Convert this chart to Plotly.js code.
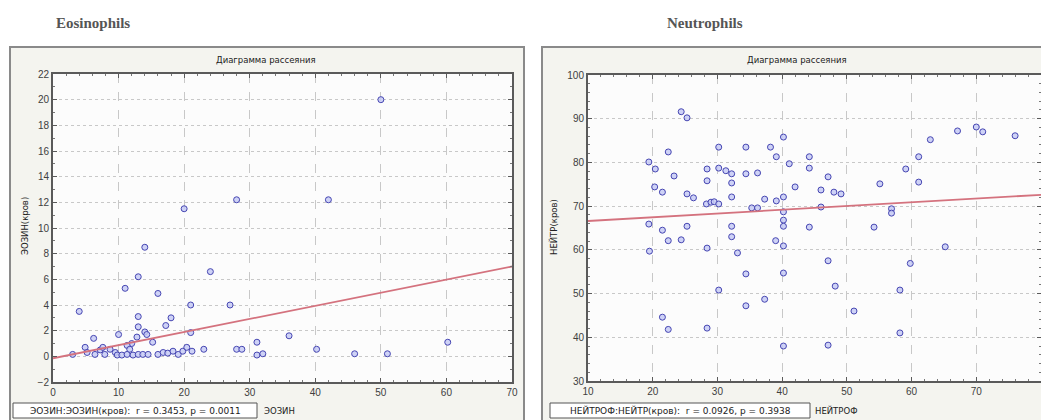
<!DOCTYPE html>
<html>
<head>
<meta charset="utf-8">
<script src="https://cdn.plot.ly/plotly-3.0.1.min.js"></script>
<style>html,body{margin:0;padding:0;background:#fff;}#chart{width:1041px;height:420px;}</style>
</head>
<body>
<div id="chart"></div>
<script>
// ---- Eosinophils panel data (ЭОЗИН vs ЭОЗИН(кров)) ----
const eosX = [20, 28, 14, 50, 42, 13, 11, 16, 24, 4,
              21, 27, 13, 18, 17.2, 13, 21, 14, 10, 6.2,
              14.3, 12.8, 15.2, 12, 11.3, 31.1, 36, 40.2, 60.2, 31.1,
              32, 46, 51, 3, 4.9, 5.2, 6.4, 7.2, 7.6, 7.9,
              8.7, 9.5, 9.8, 10.5, 11.3, 11.7, 12.2, 13, 13.7, 14.5,
              16, 16.8, 17.5, 18.3, 19.1, 19.8, 20.4, 21.2, 23, 28,
              28.8];
const eosY = [11.5, 12.2, 8.5, 20, 12.2, 6.2, 5.3, 4.9, 6.6, 3.5,
              4.0, 4.0, 3.1, 3.0, 2.4, 2.3, 1.85, 1.9, 1.7, 1.4,
              1.7, 1.5, 1.1, 1.0, 0.85, 1.1, 1.6, 0.55, 1.1, 0.1,
              0.2, 0.2, 0.2, 0.15, 0.7, 0.3, 0.15, 0.5, 0.7, 0.15,
              0.55, 0.3, 0.1, 0.1, 0.15, 0.55, 0.1, 0.15, 0.15, 0.15,
              0.15, 0.3, 0.25, 0.4, 0.15, 0.4, 0.7, 0.4, 0.55, 0.55,
              0.55];
const eosFitX = [0, 70];
const eosFitY = [-0.15, 7.0];

// ---- Neutrophils panel data (НЕЙТРОФ vs НЕЙТР(кров)) ----
const neuX = [24.4, 25.3, 22.4, 19.4, 20.4, 23.3, 20.3, 21.5, 25.3, 26.3,
              28.4, 28.4, 30.2, 30.2, 31.3, 32.2, 32.2, 32.2, 34.4, 34.4,
              36.2, 38.2, 39.1, 37.3, 39.1, 28.3, 29, 29.5, 30.2, 35.3,
              36.2, 19.4, 21.5, 25.3, 32.2, 32.2, 22.4, 24.4, 39, 19.5,
              28.4, 33.1, 34.4, 30.2, 34.4, 37.3, 21.5, 22.4, 28.4,
              40.2, 41.1, 44.2, 44.2, 42, 47.1, 46, 48, 49.1, 40.2,
              40.2, 40.2, 40.2, 44.2, 46, 55.1, 54.2, 56.9, 56.9, 59.1,
              61.1, 61.1, 62.9, 67.1, 70, 71, 76, 65.2, 40.2, 47.1,
              59.8, 40.2, 48.2, 58.2, 51.1, 58.2, 40.2, 47.1];
const neuY = [91.6, 90.2, 82.4, 80.1, 78.5, 76.9, 74.4, 73.2, 72.8, 71.9,
              78.5, 75.8, 83.5, 78.7, 78.1, 77.4, 75.3, 72.1, 83.5, 77.4,
              77.6, 83.5, 81.3, 71.6, 71.2, 70.5, 70.9, 71, 70.5, 69.6,
              69.6, 65.9, 64.5, 65.4, 65.4, 63.0, 62.1, 62.3, 62.1, 59.7,
              60.4, 59.3, 54.5, 50.8, 47.2, 48.7, 44.6, 41.8, 42.1,
              85.8, 79.7, 81.3, 78.7, 74.4, 76.7, 73.7, 73.2, 72.8, 72.1,
              68.7, 66.8, 65.4, 65.2, 69.8, 75.1, 65.2, 69.4, 68.4, 78.5,
              81.3, 75.5, 85.2, 87.2, 88.1, 87.0, 86.1, 60.7, 60.9, 57.5,
              56.9, 54.7, 51.7, 50.8, 46, 41, 38, 38.2];
const neuFitX = [10, 80];
const neuFitY = [66.6, 72.6];

// ---- Texts ----
const panelTitles = ["Eosinophils", "Neutrophils"];
const plotTitle = "Диаграмма рассеяния";
const yTitles = ["ЭОЗИН(кров)", "НЕЙТР(кров)"];
const xTitles = ["ЭОЗИН", "НЕЙТРОФ"];
const legendTexts = ["ЭОЗИН:ЭОЗИН(кров):  r = 0.3453, p = 0.0011",
                     "НЕЙТРОФ:НЕЙТР(кров):  r = 0.0926, p = 0.3938"];

const W = 1041, H = 420;
const px = x => x / W;
const py = y => 1 - y / H;

const marker = {symbol: 'circle', size: 6, color: 'rgba(198,202,244,0.85)', line: {color: '#4646b2', width: 1}};
const fitLine = {color: '#d4727e', width: 1.8};

const traces = [
  {x: eosX, y: eosY, type: 'scatter', mode: 'markers', marker: marker, xaxis: 'x', yaxis: 'y'},
  {x: eosFitX, y: eosFitY, type: 'scatter', mode: 'lines', line: fitLine, xaxis: 'x', yaxis: 'y'},
  {x: neuX, y: neuY, type: 'scatter', mode: 'markers', marker: marker, xaxis: 'x2', yaxis: 'y2'},
  {x: neuFitX, y: neuFitY, type: 'scatter', mode: 'lines', line: fitLine, xaxis: 'x2', yaxis: 'y2'}
];

const tickFont = {family: 'Liberation Sans, Arial, sans-serif', size: 10, color: '#404040'};
function axis(domain, range, dtick, minorDtick, gdash, anchor) {
  return {
    domain: domain, range: range, dtick: dtick, tick0: range[0], anchor: anchor,
    showline: true, linecolor: '#5a5a5a', linewidth: 2, mirror: 'ticks',
    ticks: 'inside', ticklen: 4, tickcolor: '#5a5a5a', tickwidth: 1,
    minor: {dtick: minorDtick, ticks: 'inside', ticklen: 2, tickcolor: '#777', showgrid: false},
    showgrid: true, gridcolor: '#c8c8c8', gridwidth: 1, griddash: gdash,
    zeroline: false, tickfont: tickFont, fixedrange: true
  };
}

const shapes = [
  // panel frames
  {type: 'rect', xref: 'paper', yref: 'paper', x0: px(10), x1: px(524), y0: py(421), y1: py(47),
   fillcolor: '#f4f4ef', line: {color: '#8a8a8a', width: 2}, layer: 'below'},
  {type: 'rect', xref: 'paper', yref: 'paper', x0: px(542), x1: px(1046), y0: py(421), y1: py(47),
   fillcolor: '#f4f4ef', line: {color: '#8a8a8a', width: 2}, layer: 'below'},
  // plot area backgrounds
  {type: 'rect', xref: 'paper', yref: 'paper', x0: px(53), x1: px(512), y0: py(382), y1: py(74),
   fillcolor: '#fcfcfc', line: {width: 0}, layer: 'below'},
  {type: 'rect', xref: 'paper', yref: 'paper', x0: px(588), x1: px(1041), y0: py(381), y1: py(75),
   fillcolor: '#fcfcfc', line: {width: 0}, layer: 'below'},
  // legend boxes
  {type: 'rect', xref: 'paper', yref: 'paper', x0: px(13), x1: px(257), y0: py(418), y1: py(403),
   fillcolor: '#ffffff', line: {color: '#555', width: 1}},
  {type: 'rect', xref: 'paper', yref: 'paper', x0: px(550), x1: px(810), y0: py(418), y1: py(403),
   fillcolor: '#ffffff', line: {color: '#555', width: 1}}
];

const smallFont = {family: 'DejaVu Sans, Verdana, sans-serif', size: 8.5, color: '#222'};
const legendFont = {family: 'DejaVu Sans, Verdana, sans-serif', size: 9, color: '#222'};
const serifFont = {family: 'Liberation Serif, DejaVu Serif, serif', size: 15, color: '#555', weight: 'bold'};
function ann(text, x, y, font, extra) {
  return Object.assign({text: text, x: px(x), y: py(y), xref: 'paper', yref: 'paper', showarrow: false,
    xanchor: 'center', yanchor: 'middle', font: font}, extra || {});
}
const annotations = [
  ann(panelTitles[0], 93, 23, serifFont),
  ann(panelTitles[1], 705, 23, serifFont),
  ann(plotTitle, 266, 60, smallFont),
  ann(plotTitle, 797, 60, smallFont),
  ann(yTitles[0], 25, 226, smallFont, {textangle: -90}),
  ann(yTitles[1], 553, 227, smallFont, {textangle: -90}),
  ann(legendTexts[0], 135, 410.5, legendFont),
  ann(legendTexts[1], 680, 410.5, legendFont),
  ann(xTitles[0], 262, 410.5, smallFont, {xanchor: 'left'}),
  ann(xTitles[1], 813, 410.5, smallFont, {xanchor: 'left'})
];

const layout = {
  width: W, height: H,
  margin: {l: 0, r: 0, t: 0, b: 0, pad: 0},
  paper_bgcolor: '#ffffff', plot_bgcolor: 'rgba(0,0,0,0)',
  showlegend: false,
  xaxis: axis([px(53), px(512)], [0, 70], 10, 2, 'dash', 'y'),
  yaxis: axis([py(382), py(74)], [-2, 22], 2, 1, 'dot', 'x'),
  xaxis2: axis([px(588), 1], [10, 80], 10, 2, 'dash', 'y2'),
  yaxis2: axis([py(381), py(75)], [30, 100], 10, 2, 'dot', 'x2'),
  shapes: shapes,
  annotations: annotations
};

Plotly.newPlot('chart', traces, layout, {staticPlot: true, displayModeBar: false});
</script>
</body>
</html>
